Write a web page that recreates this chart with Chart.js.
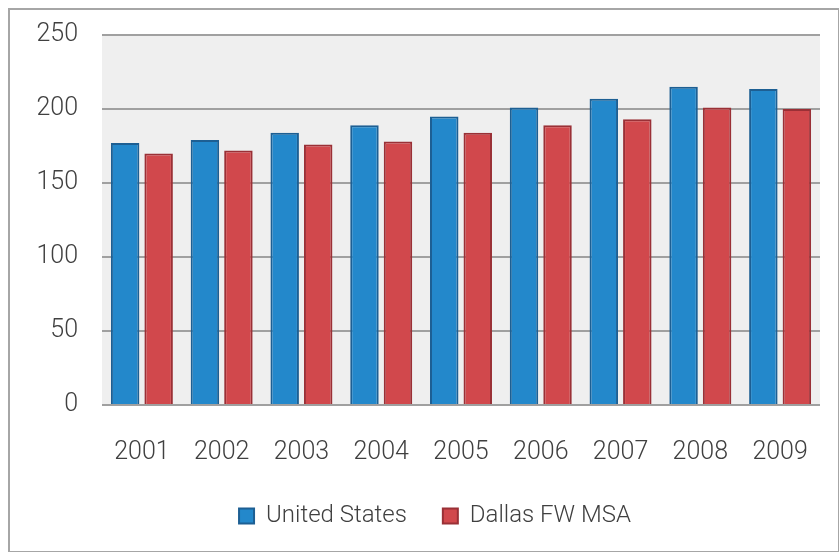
<!DOCTYPE html>
<html>
<head>
<meta charset="utf-8">
<script src="https://cdn.jsdelivr.net/npm/chart.js@4.4.0/dist/chart.umd.min.js"></script>
<style>
  html, body { margin: 0; padding: 0; background: #fff; }
  #wrap { width: 839px; height: 552px; }
</style>
</head>
<body>
<div id="wrap"><canvas id="chart" width="839" height="552"></canvas></div>
<script>
// Chart data
const years = ["2001", "2002", "2003", "2004", "2005", "2006", "2007", "2008", "2009"];
const unitedStates = [177, 179, 184, 189, 195, 201, 207, 215, 213.5];
const dallasFW = [170, 172, 176, 178, 184, 189, 193, 201, 200];
const yTicks = [0, 50, 100, 150, 200, 250];

// grey plot background + outer frame
const framePlugin = {
    id: 'frame',
    afterLayout(chart) {
        // nudge legend so it is centred like the original
        chart.legend.left = 50;
    },
    beforeDraw(chart) {
        const ctx = chart.ctx;
        const a = chart.chartArea;
        ctx.save();
        ctx.fillStyle = '#efefef';
        ctx.fillRect(a.left, a.top, a.right - a.left, a.bottom - a.top);
        ctx.strokeStyle = '#a6a6a6';
        ctx.lineWidth = 2;
        ctx.strokeRect(9, 9, chart.width - 9, chart.height - 9);
        ctx.restore();
    }
};

const axisFont = { family: "Roboto, sans-serif", size: 25, weight: 300 };
const legendFont = { family: "Roboto, sans-serif", size: 24, weight: 300 };

new Chart(document.getElementById('chart'), {
    type: 'bar',
    data: {
        labels: years,
        datasets: [
            {
                label: 'United States',
                data: unitedStates,
                backgroundColor: '#2388cb',
                borderColor: '#1d5f93',
                borderWidth: 2,
                borderSkipped: 'bottom'
            },
            {
                label: 'Dallas FW MSA',
                data: dallasFW,
                backgroundColor: '#d1484c',
                borderColor: '#9a3036',
                borderWidth: 2,
                borderSkipped: 'bottom'
            }
        ]
    },
    options: {
        responsive: false,
        animation: false,
        categoryPercentage: 0.84,
        barPercentage: 0.85,
        layout: { padding: { top: 35, right: 19, bottom: 14, left: 0 } },
        plugins: {
            legend: {
                position: 'bottom',
                labels: {
                    boxWidth: 15,
                    boxHeight: 15,
                    padding: 36,
                    color: '#404040',
                    font: legendFont
                }
            },
            tooltip: { enabled: false }
        },
        scales: {
            x: {
                grid: { display: false, drawTicks: false },
                border: { display: false },
                ticks: { color: '#404040', font: axisFont, padding: 33 },
                afterFit(s) {
                    s.height = 63;
                    s.paddingLeft = 0;
                    s.paddingRight = 0;
                }
            },
            y: {
                min: 0,
                max: 250,
                afterBuildTicks(s) { s.ticks = yTicks.map(v => ({ value: v })); },
                grid: { color: '#a0a0a0', lineWidth: 2, drawTicks: false },
                border: { display: false },
                ticks: { color: '#404040', font: axisFont, padding: 24 },
                afterFit(s) {
                    s.width = 102;
                    s.paddingTop = 0;
                    s.paddingBottom = 0;
                }
            }
        }
    },
    plugins: [framePlugin]
});
</script>
</body>
</html>
